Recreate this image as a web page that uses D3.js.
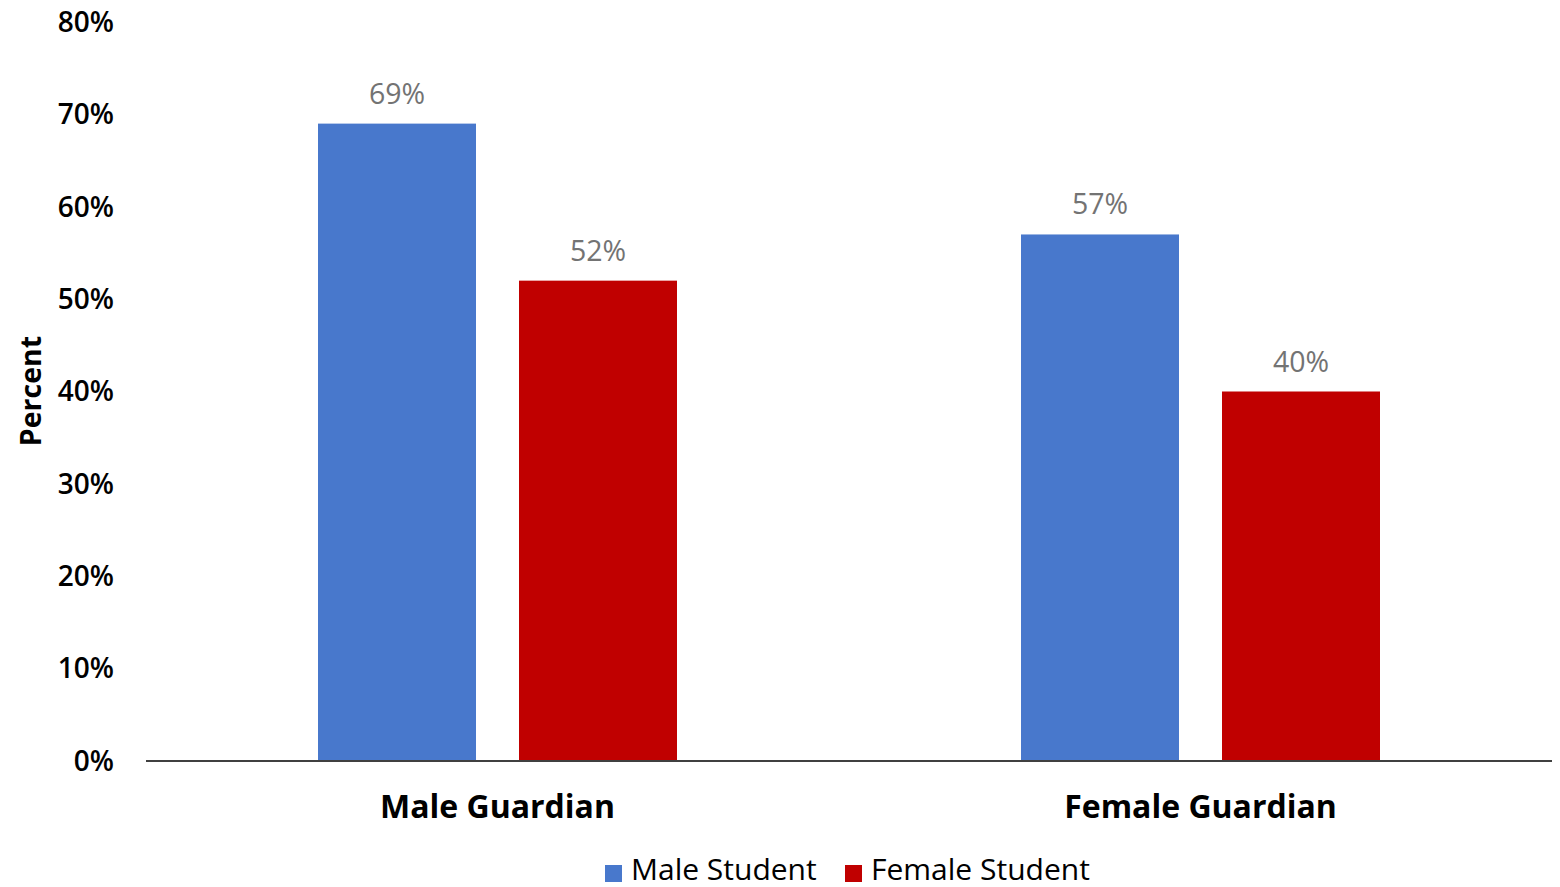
<!DOCTYPE html>
<html><head><meta charset="utf-8">
<script src="https://cdn.jsdelivr.net/npm/d3@7"></script>
<style>body{margin:0;background:#fff}svg{display:block}text{font-family:"Open Sans",sans-serif}</style>
</head><body>
<svg id="c" width="1560" height="887"></svg>
<script>
const categories = ["Male Guardian", "Female Guardian"];
const seriesNames = ["Male Student", "Female Student"];
const maleStudent = [69, 57];
const femaleStudent = [52, 40];
const yTicks = [0, 10, 20, 30, 40, 50, 60, 70, 80];
const colors = ["#4878CC", "#C00000"];

const svg = d3.select("#c");
const m = {l:146, r:1552, t:22, b:761};
const x = d3.scaleBand().domain(categories).range([m.l, m.r]).paddingInner(0).paddingOuter(0);
const x1 = d3.scaleBand().domain(seriesNames).range([172, 703-172]).paddingInner(43/201).paddingOuter(0);
const y = d3.scaleLinear().domain([0, 80]).range([m.b, m.t]);

const data = categories.map((c,i)=>({cat:c, vals:[maleStudent[i], femaleStudent[i]]}));

// y tick labels
svg.append("g").selectAll("text").data(yTicks).join("text")
  .attr("x", 114).attr("y", d=>y(d)).attr("dy","0.35em")
  .attr("text-anchor","end").attr("font-size",28).attr("font-weight",600).attr("fill","#000")
  .text(d=>d+"%");

// y title
svg.append("text").attr("transform",`translate(41,391) rotate(-90)`)
  .attr("text-anchor","middle").attr("font-size",28.5).attr("font-weight",700).text("Percent");

// bars
const g = svg.append("g");
data.forEach(d=>{
  d.vals.forEach((v,j)=>{
    const bx = x(d.cat)+x1(seriesNames[j]);
    g.append("rect").attr("x",bx).attr("y",y(v)).attr("width",x1.bandwidth()).attr("height",y(0)-y(v)).attr("fill",colors[j]);
    g.append("text").attr("x",bx+x1.bandwidth()/2).attr("y",y(v)-20)
      .attr("text-anchor","middle").attr("font-size",28.5).attr("font-weight",500).attr("fill","#737373").text(v+"%");
  });
});

// axis line
svg.append("line").attr("x1",m.l).attr("x2",m.r).attr("y1",y(0)).attr("y2",y(0)).attr("stroke","#404040").attr("stroke-width",2);

// category labels
svg.append("g").selectAll("text").data(categories).join("text")
  .attr("x",d=>x(d)+x.bandwidth()/2).attr("y",818).attr("text-anchor","middle")
  .attr("font-size",32).attr("font-weight",700).text(d=>d);

// legend
const leg = svg.append("g");
const legItems = [{n:seriesNames[0], c:colors[0], x:605},{n:seriesNames[1], c:colors[1], x:845}];
legItems.forEach(it=>{
  leg.append("rect").attr("x",it.x).attr("y",865).attr("width",17).attr("height",17).attr("fill",it.c);
  leg.append("text").attr("x",it.x+26).attr("y",880).attr("font-size",30).attr("font-weight",500).text(it.n);
});
</script>
</body></html>
